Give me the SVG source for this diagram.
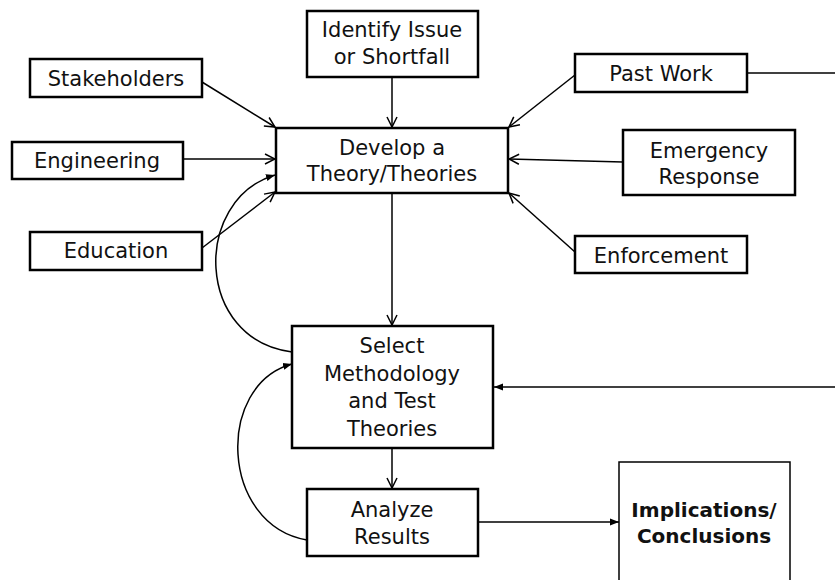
<svg xmlns="http://www.w3.org/2000/svg" width="835" height="580" viewBox="0 0 835 580">
<style>
.box{fill:#fff;stroke:#000;stroke-width:2.5}
.thin{fill:#fff;stroke:#000;stroke-width:1.5}
.t{font-family:"DejaVu Sans","Liberation Sans",sans-serif;font-size:21px;fill:#111;text-anchor:middle}
.b{font-family:"DejaVu Sans","Liberation Sans",sans-serif;font-size:20px;font-weight:bold;fill:#111;text-anchor:middle}
.c{fill:none;stroke:#000;stroke-width:1.5}
.o{marker-end:url(#open)}
.f{marker-end:url(#fill)}
</style>
<defs>
<marker id="open" viewBox="0 0 12 12" refX="11" refY="6" markerWidth="12" markerHeight="12" markerUnits="userSpaceOnUse" orient="auto">
<path d="M1,1 L11,6 L1,11" fill="none" stroke="#000" stroke-width="1.5"/>
</marker>
<marker id="fill" viewBox="0 0 10 10" refX="10" refY="5" markerWidth="9" markerHeight="9" markerUnits="userSpaceOnUse" orient="auto">
<path d="M0,1 L10,5 L0,9 Z" fill="#000"/>
</marker>
</defs>
<rect width="835" height="580" fill="#fff"/>
<g id="connectors">
<line class="c o" x1="392" y1="77" x2="392" y2="127"/>
<line class="c o" x1="202" y1="82" x2="275" y2="127"/>
<line class="c o" x1="183" y1="159" x2="275" y2="159"/>
<line class="c o" x1="202" y1="248" x2="275" y2="192"/>
<line class="c o" x1="575" y1="75" x2="509" y2="127"/>
<line class="c o" x1="623" y1="162" x2="509" y2="159"/>
<line class="c o" x1="575" y1="252" x2="509" y2="193"/>
<line class="c o" x1="392" y1="193" x2="392" y2="325"/>
<line class="c o" x1="392" y1="448" x2="392" y2="488"/>
<path class="c f" d="M292,352 C195,340 192,200 275,175"/>
<path class="c f" d="M307,540 C220,525 215,385 292,364"/>
<path class="c" d="M747,73 L835,73"/>
<path class="c f" d="M835,387 L494,387"/>
<path class="c f" d="M478,522 L619,522"/>
</g>
<g id="stakeholders"><rect class="box" x="30" y="59" width="172" height="38"/><text class="t" x="116" y="86">Stakeholders</text></g>
<g id="engineering"><rect class="box" x="12" y="142" width="171" height="37"/><text class="t" x="97" y="168">Engineering</text></g>
<g id="education"><rect class="box" x="30" y="232" width="172" height="38"/><text class="t" x="116" y="258">Education</text></g>
<g id="identify"><rect class="box" x="307" y="11" width="171" height="66"/><text class="t" x="392" y="37">Identify Issue</text><text class="t" x="392" y="64">or Shortfall</text></g>
<g id="develop"><rect class="box" x="276" y="128" width="232" height="65"/><text class="t" x="392" y="155">Develop a</text><text class="t" x="392" y="181">Theory/Theories</text></g>
<g id="pastwork"><rect class="box" x="575" y="54" width="172" height="38"/><text class="t" x="661" y="81">Past Work</text></g>
<g id="emergency"><rect class="box" x="623" y="130" width="172" height="65"/><text class="t" x="709" y="158">Emergency</text><text class="t" x="709" y="184">Response</text></g>
<g id="enforcement"><rect class="box" x="575" y="236" width="172" height="37"/><text class="t" x="661" y="263">Enforcement</text></g>
<g id="select"><rect class="box" x="292" y="326" width="201" height="122"/><text class="t" x="392" y="353">Select</text><text class="t" x="392" y="381">Methodology</text><text class="t" x="392" y="408">and Test</text><text class="t" x="392" y="436">Theories</text></g>
<g id="analyze"><rect class="box" x="307" y="489" width="171" height="67"/><text class="t" x="392" y="517">Analyze</text><text class="t" x="392" y="544">Results</text></g>
<g id="implications"><rect class="thin" x="619" y="462" width="171" height="130"/><text class="b" x="704" y="517">Implications/</text><text class="b" x="704" y="543">Conclusions</text></g>
</svg>
